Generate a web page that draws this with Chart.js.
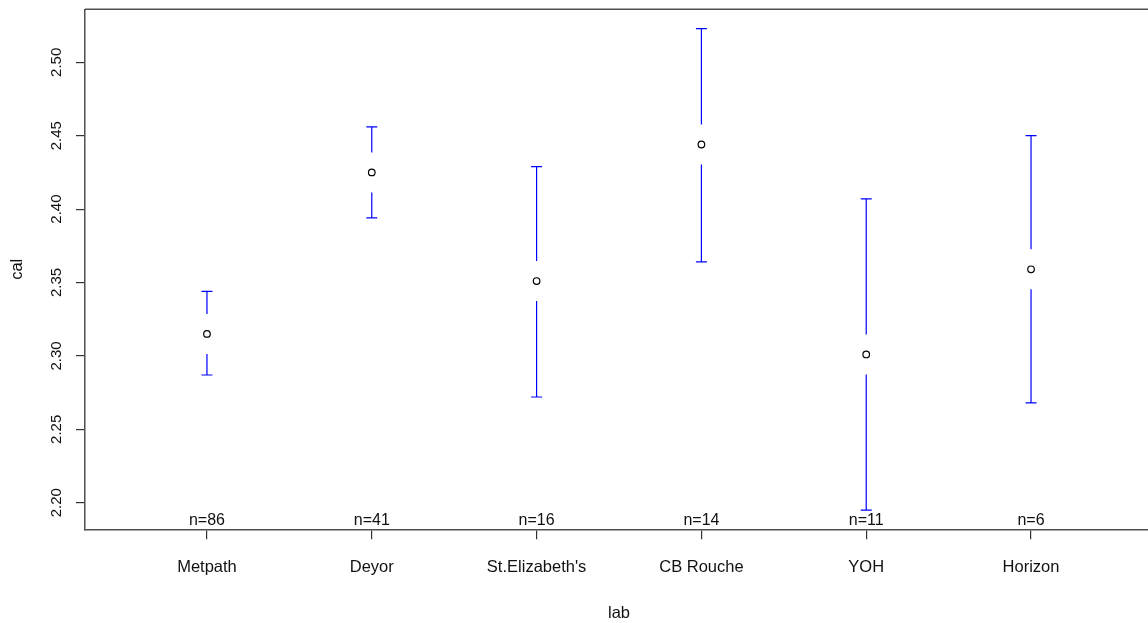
<!DOCTYPE html>
<html><head><meta charset="utf-8">
<script src="https://cdn.jsdelivr.net/npm/chart.js@4/dist/chart.umd.min.js"></script>
<style>
html,body{margin:0;padding:0;overflow:hidden;background:#fff;width:1148px;height:623px}
#wrap{position:relative;width:1160px;height:623px}
canvas{display:block}
</style></head><body>
<div id="wrap"><canvas id="c" width="1160" height="623"></canvas></div>
<script>
const labs = ["Metpath", "Deyor", "St.Elizabeth's", "CB Rouche", "YOH", "Horizon"];
const means = [2.315, 2.425, 2.351, 2.444, 2.301, 2.359];
const upper = [2.344, 2.456, 2.429, 2.523, 2.407, 2.450];
const lower = [2.287, 2.394, 2.272, 2.364, 2.195, 2.268];
const counts = [86, 41, 16, 14, 11, 6];
const yTicks = [2.20, 2.25, 2.30, 2.35, 2.40, 2.45, 2.50];

const FONT = "'Liberation Sans', Arial, sans-serif";
Chart.defaults.font.family = FONT;
Chart.defaults.color = '#222';

const errPlugin = {
  id: 'errbars',
  beforeDatasetsDraw(chart) {
    const {ctx, scales: {x, y}, chartArea} = chart;
    ctx.save();
    // top frame line
    ctx.strokeStyle = '#505050';
    ctx.lineWidth = 1.5;
    ctx.beginPath();
    ctx.moveTo(chartArea.left, chartArea.top);
    ctx.lineTo(chartArea.right, chartArea.top);
    ctx.stroke();
    ctx.strokeStyle = '#0000ff';
    ctx.lineWidth = 1.2;
    const gap = 20, cap = 5.5;
    labs.forEach((_, i) => {
      const px = x.getPixelForValue(i + 1);
      const pm = y.getPixelForValue(means[i]);
      const pu = y.getPixelForValue(upper[i]);
      const pl = y.getPixelForValue(lower[i]);
      ctx.beginPath();
      ctx.moveTo(px, pu); ctx.lineTo(px, pm - gap);
      ctx.moveTo(px, pm + gap); ctx.lineTo(px, pl);
      ctx.moveTo(px - cap, pu); ctx.lineTo(px + cap, pu);
      ctx.moveTo(px - cap, pl); ctx.lineTo(px + cap, pl);
      ctx.stroke();
    });
    // n labels
    ctx.fillStyle = '#111';
    ctx.font = "16px " + FONT;
    ctx.textAlign = 'center';
    ctx.textBaseline = 'alphabetic';
    labs.forEach((_, i) => {
      ctx.fillText('n=' + counts[i], x.getPixelForValue(i + 1), chartArea.bottom - 4.3);
    });
    ctx.restore();
  }
};

new Chart(document.getElementById('c'), {
  type: 'scatter',
  data: {
    datasets: [{
      data: means.map((m, i) => ({x: i + 1, y: m})),
      pointStyle: 'circle',
      pointRadius: 3.3,
      pointBorderWidth: 1.2,
      pointBorderColor: '#000',
      pointBackgroundColor: '#fff',
      showLine: false
    }]
  },
  options: {
    responsive: false,
    animation: false,
    devicePixelRatio: 1,
    layout: {padding: {left: 0, right: 7, top: 9.3, bottom: 0}},
    plugins: {legend: {display: false}, tooltip: {enabled: false}},
    scales: {
      x: {
        type: 'linear',
        min: 0.26, max: 6.74,
        afterBuildTicks: s => { s.ticks = labs.map((_, i) => ({value: i + 1})); },
        afterFit: s => { s.height = 93.7; s.paddingLeft = 0; s.paddingRight = 0; },
        ticks: {
          autoSkip: false, maxRotation: 0, minRotation: 0,
          padding: 17.8,
          font: {size: 16.5},
          color: '#111',
          callback: v => labs[v - 1]
        },
        grid: {drawOnChartArea: false, drawTicks: true, tickLength: 10, color: '#333', lineWidth: 1.2},
        border: {display: true, color: '#505050', width: 1.5},
        title: {display: true, text: 'lab', font: {size: 16.5, lineHeight: 1}, color: '#111', padding: {top: 0, bottom: 1.2}}
      },
      y: {
        type: 'linear',
        min: 2.1819, max: 2.5361,
        afterBuildTicks: s => { s.ticks = yTicks.map(v => ({value: v})); },
        afterFit: s => { s.width = 85; s.paddingTop = 0; s.paddingBottom = 0; },
        ticks: {
          autoSkip: false, minRotation: 90, maxRotation: 90,
          crossAlign: 'center',
          padding: 4.4,
          font: {size: 15},
          color: '#111',
          callback: v => v.toFixed(2)
        },
        grid: {drawOnChartArea: false, drawTicks: true, tickLength: 9, color: '#333', lineWidth: 1.2},
        border: {display: true, color: '#505050', width: 1.5},
        title: {display: true, text: 'cal', font: {size: 16.5, lineHeight: 1}, color: '#111', padding: {top: 9.7, bottom: 0}}
      }
    }
  },
  plugins: [errPlugin]
});
</script>
</body></html>
